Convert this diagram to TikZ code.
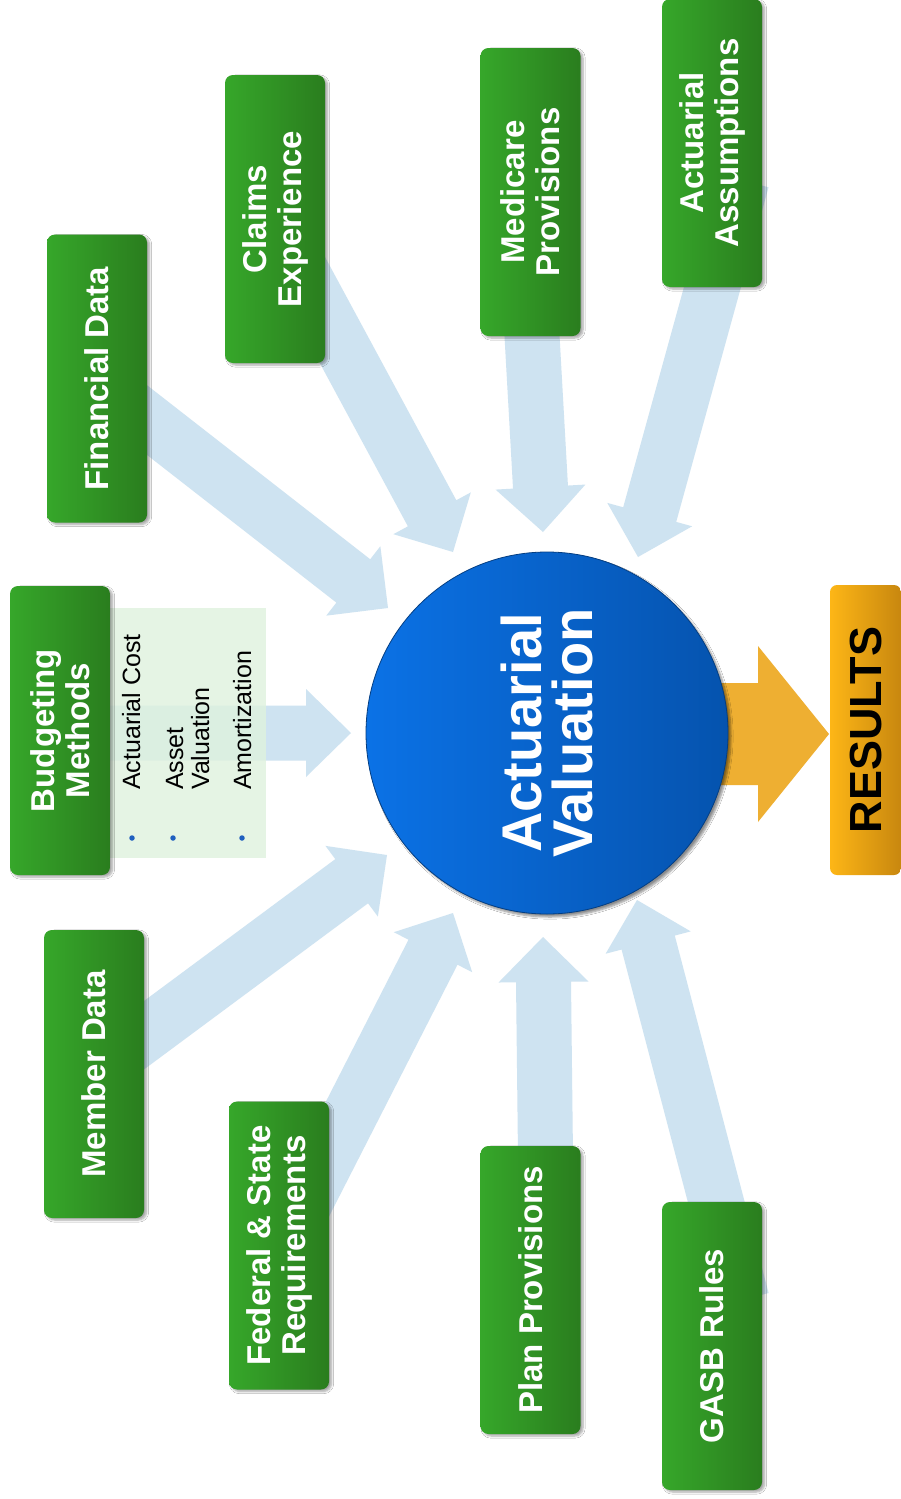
\documentclass[tikz,border=0pt]{standalone}
\usepackage{fontspec}
\setmainfont{Liberation Sans}
\usetikzlibrary{calc,shadows.blur}
\definecolor{arrowblue}{HTML}{CEE3F1}
\definecolor{gA}{HTML}{36A72A}
\definecolor{gM}{HTML}{33A026}
\definecolor{gB}{HTML}{2A7D1E}
\definecolor{panelgreen}{HTML}{DFF2DE}
\definecolor{orA}{HTML}{FDB616}
\definecolor{orB}{HTML}{C8870F}
\definecolor{orArrow}{HTML}{EEAF32}
\definecolor{bA}{HTML}{0B72E6}
\definecolor{bB}{HTML}{0553AE}
\definecolor{bulletblue}{HTML}{1F5FBF}
% #1 style, #2 tail, #3 tip, #4 shaft half width, #5 head half width, #6 head length
\newcommand\blockarrow[6]{%
  \path ($(#3)!#6!(#2)$) coordinate (ba);
  \fill[#1] ($(#2)!#4!90:(#3)$) -- ($(ba)!#4!90:(#3)$) -- ($(ba)!#5!90:(#3)$) -- (#3)
     -- ($(ba)!#5!-90:(#3)$) -- ($(ba)!#4!-90:(#3)$) -- ($(#2)!#4!-90:(#3)$) -- cycle;}
\tikzset{
  greenbox/.style={rectangle, rounded corners=8pt, minimum width=100pt, minimum height=288pt,
    inner sep=0pt, left color=gA, middle color=gM, right color=gB,
    blur shadow={shadow xshift=2.5pt, shadow yshift=-2pt, shadow opacity=35, shadow blur steps=6},
    label={[rotate=90, align=center, inner sep=0pt, text=white,
      font=\fontsize{33pt}{35pt}\selectfont\bfseries]center:#1}},
  paneltext/.style={rotate=90, anchor=base west, inner sep=0pt, text=black,
    font=\fontsize{25pt}{26pt}\selectfont},
  dotnode/.style={circle, fill=bulletblue, inner sep=0pt, minimum size=5.5pt},
  inarrow/.style={fill=arrowblue},
  outarrow/.style={fill=orArrow}
}
\begin{document}
\begin{tikzpicture}[x=1pt, y=-1pt]
\useasboundingbox (0,0) rectangle (901,1499);
\clip (0,0) rectangle (901,1499);
\fill[white] (0,0) rectangle (901,1499);

% arrow end points
\coordinate (budgT) at (100,733);   \coordinate (budgP) at (351,733);
\coordinate (finT) at (120,399);    \coordinate (finP) at (388,608);
\coordinate (claT) at (290,250);    \coordinate (claP) at (453,552);
\coordinate (medT) at (530,300);    \coordinate (medP) at (543,532);
\coordinate (assT) at (742,180);    \coordinate (assP) at (638,557);
\coordinate (memT) at (120,1053);   \coordinate (memP) at (387,855);
\coordinate (fedT) at (303,1207);   \coordinate (fedP) at (453,913);
\coordinate (plaT) at (546,1200);   \coordinate (plaP) at (543,937);
\coordinate (gasT) at (742,1300);   \coordinate (gasP) at (637,900);
\coordinate (resT) at (700,734);    \coordinate (resP) at (829,734);

% input arrows
\blockarrow{inarrow}{budgT}{budgP}{27.5pt}{44pt}{45pt}
\blockarrow{inarrow}{finT}{finP}{27.5pt}{44pt}{44pt}
\blockarrow{inarrow}{claT}{claP}{27.5pt}{44pt}{44pt}
\blockarrow{inarrow}{medT}{medP}{27.5pt}{45pt}{45pt}
\blockarrow{inarrow}{assT}{assP}{27.5pt}{44pt}{44pt}
\blockarrow{inarrow}{memT}{memP}{27.5pt}{44pt}{44pt}
\blockarrow{inarrow}{fedT}{fedP}{27.5pt}{44pt}{44pt}
\blockarrow{inarrow}{plaT}{plaP}{27.5pt}{45pt}{45pt}
\blockarrow{inarrow}{gasT}{gasP}{27.5pt}{44pt}{44pt}
% output arrow
\blockarrow{outarrow}{resT}{resP}{51pt}{88pt}{71pt}

% panel of methods
\node[rectangle, minimum width=156pt, minimum height=250pt, inner sep=0pt,
      fill=panelgreen, fill opacity=0.8] (methods) at (188,733) {};

% boxes
\node[greenbox={Budgeting\\Methods}, minimum height=289pt] (budg) at (60,730.5) {};
\node[greenbox={Financial Data}] (fin) at (97,378.5) {};
\node[greenbox={Claims\\Experience}] (claims) at (275,219) {};
\node[greenbox={Medicare\\Provisions}] (medic) at (530.5,192) {};
\node[greenbox={Actuarial\\Assumptions}] (assump) at (712,143) {};
\node[greenbox={Member Data}] (member) at (94,1074) {};
\node[greenbox={Federal \& State\\Requirements}] (fed) at (279,1245.5) {};
\node[greenbox={Plan Provisions}] (plan) at (530.5,1290) {};
\node[greenbox={GASB Rules}] (gasb) at (712,1346) {};

% panel items
\node[paneltext] (m1) at (140,790) {Actuarial Cost};
\node[paneltext] (m2) at (183,790) {Asset};
\node[paneltext] (m3) at (209,790) {Valuation};
\node[paneltext] (m4) at (251,790) {Amortization};
\node[dotnode] (d1) at (132,838) {};
\node[dotnode] (d2) at (173,838) {};
\node[dotnode] (d3) at (242,838) {};

% central circle
\node[circle, minimum size=362pt, inner sep=0pt, left color=bA, right color=bB,
      draw=bB!75!black, line width=0.8pt,
      blur shadow={shadow xshift=3pt, shadow yshift=-3pt, shadow opacity=45, shadow blur steps=6},
      label={[rotate=90, align=center, inner sep=0pt, text=white,
        font=\fontsize{56pt}{51pt}\selectfont\bfseries]center:Actuarial\\Valuation}]
      (av) at (547,733) {};

% results
\node[rectangle, rounded corners=7pt, minimum width=71pt, minimum height=290pt, inner sep=0pt,
      left color=orA, right color=orB,
      label={[rotate=90, inner sep=0pt, text=black,
        font=\fontsize{45pt}{47pt}\selectfont\bfseries]center:RESULTS}] (res) at (865.5,730) {};
\end{tikzpicture}
\end{document}
